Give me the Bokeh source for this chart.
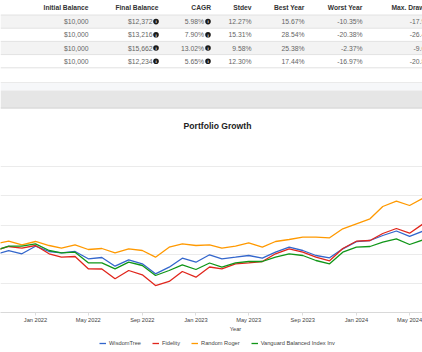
from datetime import datetime
from bokeh.plotting import figure
from bokeh.models import Range1d, FixedTicker, DatetimeTickFormatter, Legend, LegendItem
from bokeh.layouts import column
from bokeh.core.properties import value
from bokeh.embed import file_html
from bokeh.resources import INLINE

# ---------------- table data ----------------
table_headers = ["Initial Balance", "Final Balance", "CAGR", "Stdev", "Best Year", "Worst Year", "Max. Drawdown"]
initial_balance = ["$10,000", "$10,000", "$10,000", "$10,000"]
final_balance = ["$12,372", "$13,216", "$15,662", "$12,234"]
cagr = ["5.98%", "7.90%", "13.02%", "5.65%"]
stdev = ["12.27%", "15.31%", "9.58%", "12.30%"]
best_year = ["15.67%", "28.54%", "25.38%", "17.44%"]
worst_year = ["-10.35%", "-20.38%", "-2.37%", "-16.97%"]
max_drawdown = ["-17.95%", "-26.41%", "-9.67%", "-20.83%"]

# ---------------- chart data ----------------
chart_title = "Portfolio Growth"
x_axis_title = "Year"
months = ["2021-10", "2021-11", "2021-12",
          "2022-01", "2022-02", "2022-03", "2022-04", "2022-05", "2022-06",
          "2022-07", "2022-08", "2022-09", "2022-10", "2022-11", "2022-12",
          "2023-01", "2023-02", "2023-03", "2023-04", "2023-05", "2023-06",
          "2023-07", "2023-08", "2023-09", "2023-10", "2023-11", "2023-12",
          "2024-01", "2024-02", "2024-03", "2024-04", "2024-05", "2024-06"]
wisdomtree = [9977, 10251, 10025, 10546, 10183, 10094, 10183, 9682, 9771, 9175, 9614, 9339,
              8654, 9106, 9723, 9449, 9957, 9682, 9792, 9909, 9723, 10135, 10478, 10251,
              9909, 9751, 10368, 10855, 10937, 11280, 11589, 11225, 11589]
fidelity = [10251, 10526, 10409, 10594, 10025, 9792, 9840, 8997, 8983, 8311, 8880, 8585,
            7851, 8126, 8811, 8421, 9120, 8997, 9339, 9408, 9497, 10025, 10368, 10135,
            9792, 9545, 10389, 10889, 10937, 11417, 11760, 11438, 12082]
random_roger = [10711, 10889, 10642, 10869, 10594, 10409, 10642, 10320, 10389, 10094, 10368, 10251,
                9792, 10478, 10711, 10594, 10642, 10409, 10546, 10779, 10478, 10869, 11006, 11163,
                11163, 11122, 11739, 12082, 12425, 13269, 13632, 13337, 13851]
vanguard = [10251, 10546, 10546, 10711, 10251, 10094, 10135, 9408, 9408, 8997, 9449, 9223,
            8537, 8880, 9271, 8949, 9394, 9106, 9408, 9497, 9497, 9792, 10025, 9909,
            9566, 9339, 10135, 10478, 10526, 10821, 11054, 10663, 10985]
series_names = ["WisdomTree", "Fidelity", "Random Roger", "Vanguard Balanced Index Inv"]
series_colors = ["#3366cc", "#e0261c", "#ff9900", "#109618"]
tick_months = ["2022-01", "2022-05", "2022-09", "2023-01", "2023-05", "2023-09", "2024-01", "2024-05"]
y_grid_values = [6000, 8000, 10000, 12000, 14000, 16000, 18000]

FONT = "Liberation Sans"
W = 422


def to_dt(s):
    y, m = s.split("-")
    return datetime(int(y), int(m), 1)


def to_ms(d):
    return (d - datetime(1970, 1, 1)).total_seconds() * 1000.0


# ---------------- table figure (with band and chart title) ----------------
TH = 131
tf = figure(width=W, height=TH, x_range=Range1d(0, W), y_range=Range1d(TH, 0),
            x_axis_location=None, y_axis_location=None, output_backend="svg",
            toolbar_location=None, min_border=0, outline_line_color=None)
tf.grid.visible = False
tf.background_fill_color = "white"
tf.border_fill_color = "white"

row_edges = [14.5, 27.7, 40.9, 54.1, 67.3]
row_mid = [(row_edges[i] + row_edges[i + 1]) / 2 for i in range(4)]
shaded = [0, 2]
tf.quad(left=[0] * len(shaded), right=[W] * len(shaded),
        top=[row_edges[i] for i in shaded], bottom=[row_edges[i + 1] for i in shaded],
        fill_color="#f3f3f3", line_color=None)
tf.segment(x0=[0] * 5, x1=[W] * 5, y0=row_edges, y1=row_edges, line_color="#e2e2e2", line_width=1)

# lower gray band
tf.quad(left=[0], right=[W], top=[82], bottom=[90], fill_color="#f6f7f9", line_color=None)
tf.quad(left=[0], right=[W], top=[90], bottom=[108], fill_color="#e6e6e6", line_color=None)
tf.segment(x0=[0, 0], x1=[W, W], y0=[82, 107.5], y1=[82, 107.5], line_color=["#eaeaea", "#d6d6d6"], line_width=1)

header_right = [88, 158, 210.5, 251, 304, 362, 441.5]
tf.text(x=header_right, y=[7.3] * 7, text=table_headers, text_align="right", text_baseline="middle",
        text_font=value(FONT), text_font_style="bold", text_font_size=value("6.7px"), text_color="#333333")

cols = [initial_balance, final_balance, cagr, stdev, best_year, worst_year, max_drawdown]
val_right = [88, 152, 203.5, 251, 304, 362, 434.5]
for col, xr in zip(cols, val_right):
    tf.text(x=[xr] * 4, y=row_mid, text=col, text_align="right", text_baseline="middle",
            text_font=value(FONT), text_font_size=value("6.8px"), text_color="#666666")

icon_x = [155.5, 207.5, 438.5]
for ix in icon_x:
    tf.scatter(x=[ix] * 4, y=row_mid, size=5.6, marker="circle", fill_color="#1a1a1a", line_color=None)
    tf.text(x=[ix] * 4, y=[m + 0.3 for m in row_mid], text=["i"] * 4, text_align="center",
            text_baseline="middle", text_font=value(FONT), text_font_style="bold",
            text_font_size=value("4.4px"), text_color="white")

# chart title
tf.text(x=[217], y=[125.5], text=[chart_title], text_align="center", text_baseline="middle",
        text_font=value(FONT), text_font_style="bold", text_font_size=value("8.6px"), text_color="#222222")

# ---------------- chart figure ----------------
CH = 194
TOP, BOTTOM = 6, 13
x_start = datetime(2021, 10, 13, 9)
x_end = datetime(2024, 5, 30, 9)
Y0, Y1 = 6000, 18000

cf = figure(width=W, height=CH, x_axis_type="datetime", y_axis_location=None,
            x_range=Range1d(x_start, x_end), y_range=Range1d(Y0, Y1),
            output_backend="svg", toolbar_location=None,
            min_border_left=0, min_border_right=0, min_border_top=TOP, min_border_bottom=BOTTOM,
            outline_line_color=None)
cf.background_fill_color = "white"
cf.border_fill_color = "white"
cf.xgrid.visible = False
cf.ygrid.ticker = FixedTicker(ticks=y_grid_values)
cf.ygrid.grid_line_color = "#ebebeb"
cf.ygrid.grid_line_width = 1

ax = cf.xaxis[0]
ax.ticker = FixedTicker(ticks=[to_ms(to_dt(t)) for t in tick_months])
ax.formatter = DatetimeTickFormatter(months="%b %Y", years="%b %Y", days="%b %Y")
ax.axis_line_color = "#d9d9d9"
ax.major_tick_line_color = "#dddddd"
ax.major_tick_out = 3
ax.major_tick_in = 0
ax.minor_tick_line_color = None
ax.major_label_text_font = FONT
ax.major_label_text_font_size = "5.7px"
ax.major_label_text_color = "#444444"
ax.major_label_standoff = 1

dates = [to_dt(m) for m in months]
for vals, col in zip([wisdomtree, fidelity, random_roger, vanguard], series_colors):
    cf.line(dates, vals, line_color=col, line_width=1.3)

# ---------------- footer figure: axis title + legend ----------------
FH = 352 - TH - CH
ff = figure(width=W, height=FH, x_range=Range1d(0, W), y_range=Range1d(FH, 0),
            x_axis_location=None, y_axis_location=None, output_backend="svg",
            toolbar_location=None, min_border=0, outline_line_color=None)
ff.grid.visible = False
ff.background_fill_color = "white"
ff.border_fill_color = "white"
ff.text(x=[235], y=[328.5 - (TH + CH)], text=[x_axis_title], text_align="center", text_baseline="middle",
        text_font=value(FONT), text_font_size=value("5.7px"), text_color="#444444")

# legend proxies (placed outside the visible range so only their legend swatches show)
legend_renderers = [ff.line(x=[-50, -40], y=[-50, -50], line_color=c, line_width=1.3) for c in series_colors]
legend = Legend(items=[LegendItem(label=n, renderers=[r]) for n, r in zip(series_names, legend_renderers)],
                location=(99, FH - (347 - (TH + CH))), orientation="horizontal", padding=0, margin=0,
                spacing=11, glyph_width=7, glyph_height=8, label_standoff=3, label_height=8, label_width=1,
                border_line_color=None, background_fill_alpha=0,
                label_text_font=FONT, label_text_font_size="5.7px", label_text_color="#444444")
ff.add_layout(legend)

layout = column(tf, cf, ff, spacing=0)
open("out.html", "w").write(file_html(layout, INLINE))
